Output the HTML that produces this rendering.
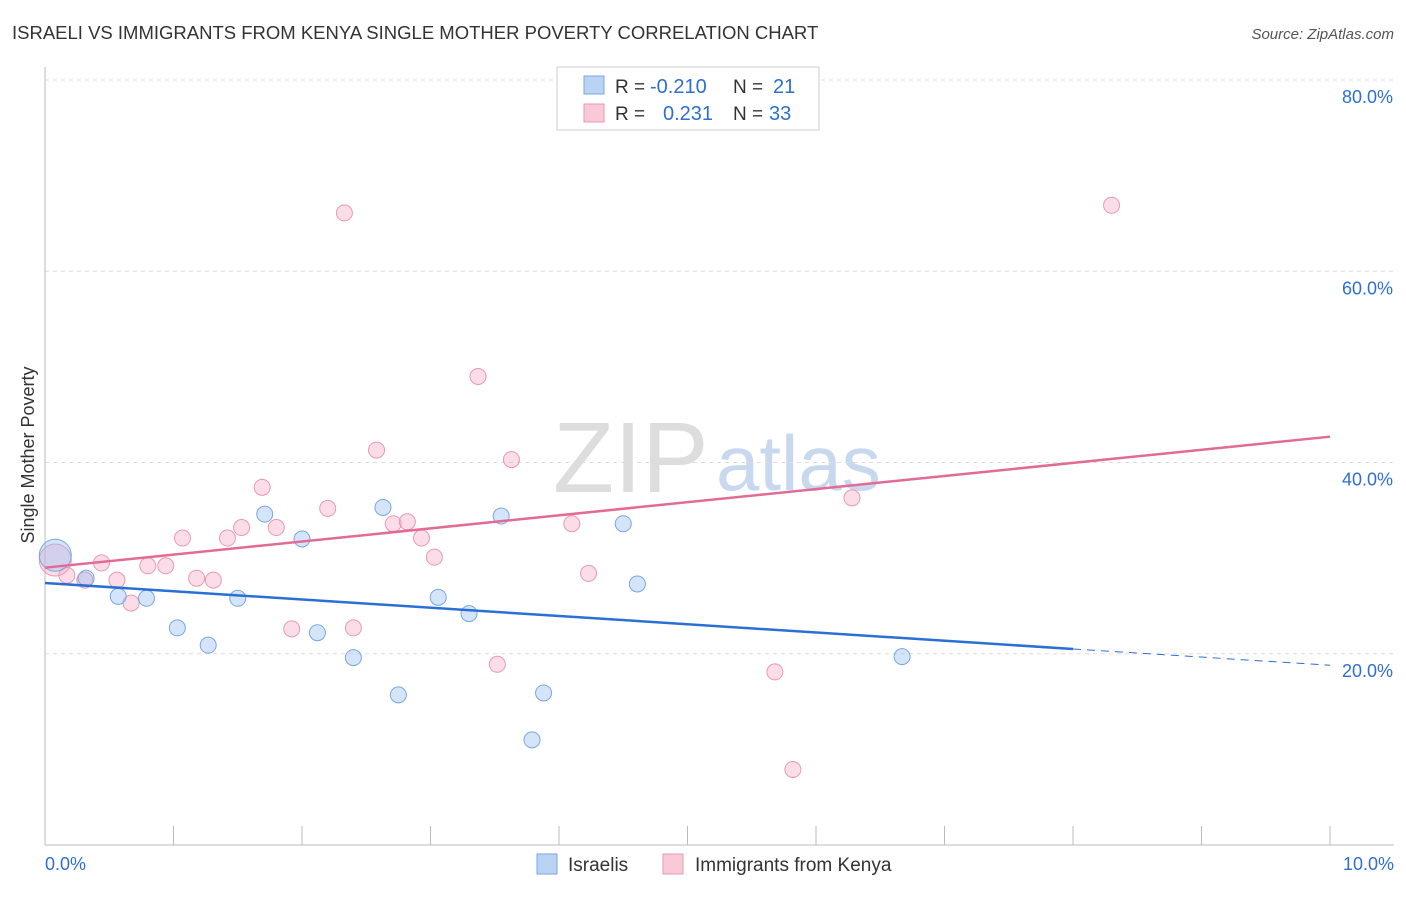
<!DOCTYPE html>
<html><head><meta charset="utf-8"><style>
body{margin:0;background:#fff;font-family:"Liberation Sans",sans-serif;}
svg text{font-family:"Liberation Sans",sans-serif;}
</style></head><body>
<svg id="c" width="1406" height="892" xmlns="http://www.w3.org/2000/svg">
<text x="12" y="39" font-size="18.5" fill="#333">ISRAELI VS IMMIGRANTS FROM KENYA SINGLE MOTHER POVERTY CORRELATION CHART</text>
<text x="1394" y="39" font-size="15" fill="#555" font-style="italic" text-anchor="end">Source: ZipAtlas.com</text>
<text x="553" y="492" font-size="100" fill="#ddd" font-family="Liberation Serif">ZIP</text>
<text x="716" y="490" font-size="78" fill="#c8d8ee">atlas</text>
<text x="34" y="455" font-size="18" fill="#333" transform="rotate(-90 34 455)" text-anchor="middle">Single Mother Poverty</text>
<g id="grid"></g><g id="marks"></g>
<g>
<rect x="557" y="67" width="262" height="63" fill="#fff" stroke="#ccc"/>
<rect x="584" y="76" width="20" height="18" fill="#b9d3f3" stroke="#7aa7e0"/>
<rect x="584" y="104" width="20" height="18" fill="#f9c9d7" stroke="#ea98b3"/>
<text x="615" y="93" font-size="19" fill="#333">R =</text>
<text x="650" y="93" font-size="20" fill="#2f6fd1">-0.210</text>
<text x="733" y="93" font-size="19" fill="#333">N =</text>
<text x="773" y="93" font-size="20" fill="#2f6fd1">21</text>
<text x="615" y="120" font-size="19" fill="#333">R =</text>
<text x="663" y="120" font-size="20" fill="#2f6fd1">0.231</text>
<text x="733" y="120" font-size="19" fill="#333">N =</text>
<text x="769" y="120" font-size="20" fill="#2f6fd1">33</text>
</g>
<g>
<rect x="537" y="854" width="20" height="20" fill="#b9d3f3" stroke="#7aa7e0"/>
<text x="568" y="871" font-size="19" fill="#333">Israelis</text>
<rect x="663" y="854" width="20" height="20" fill="#f9c9d7" stroke="#ea98b3"/>
<text x="695" y="871" font-size="19" fill="#333">Immigrants from Kenya</text>
</g>
</svg>
<script>
const yTicks=[20,40,60,80];
const xTickLabels=["0.0%","10.0%"];
const blueX=[0.08,0.32,0.57,0.79,1.03,1.27,1.50,1.71,2.00,2.12,2.40,2.63,2.75,3.06,3.30,3.55,3.79,3.88,4.50,4.61,6.67];
const blueY=[30.3,27.9,26.0,25.8,22.7,20.9,25.8,34.6,32.0,22.2,19.6,35.3,15.7,25.9,24.2,34.4,11.0,15.9,33.6,27.3,19.7];
const pinkX=[0.08,0.17,0.31,0.44,0.56,0.67,0.80,0.94,1.07,1.18,1.31,1.42,1.53,1.69,1.80,1.92,2.20,2.33,2.40,2.58,2.71,2.82,2.93,3.03,3.37,3.52,3.63,4.10,4.23,5.68,5.82,6.28,8.30];
const pinkY=[29.8,28.2,27.7,29.5,27.7,25.3,29.2,29.2,32.1,27.9,27.7,32.1,33.2,37.4,33.2,22.6,35.2,66.1,22.7,41.3,33.6,33.8,32.1,30.1,49.0,18.9,40.3,33.6,28.4,18.1,7.9,36.3,66.9];
const blueTrend=[27.4,20.5,18.8]; // at x=0, 8.0, 10
const pinkTrend=[29.0,42.7]; // at x=0,10
const X=v=>45+v*128.5, Y=v=>845-v*9.5625;
const NS="http://www.w3.org/2000/svg";
function mk(t,a,p){const e=document.createElementNS(NS,t);for(const k in a)e.setAttribute(k,a[k]);p.appendChild(e);return e;}
const g=document.getElementById('grid'),m=document.getElementById('marks');
yTicks.forEach(t=>{const l=mk('line',{x1:45,x2:1394,y1:Y(t),y2:Y(t),stroke:'#ddd','stroke-dasharray':'4,4'},g);


const tx=mk('text',{x:1393,y:Y(t)+23,'font-size':18,fill:'#2f6fd1','text-anchor':'end'},g);tx.textContent=t.toFixed(1)+'%';

});
mk('line',{x1:45,x2:45,y1:67,y2:845,stroke:'#bbb'},g);
mk('line',{x1:45,x2:1394,y1:845,y2:845,stroke:'#bbb'},g);
for(let i=0;i<=10;i++){mk('line',{x1:X(i),x2:X(i),y1:826,y2:845,stroke:'#bbb'},g);}
[[0,'start',45],[10,'end',1394]].forEach((d,i)=>{const tx=mk('text',{x:d[2],y:870,'font-size':18,fill:'#2f6fd1','text-anchor':d[1]},g);tx.textContent=xTickLabels[i];

});
function dot(x,y,big,blue){const c=mk('circle',{cx:X(x),cy:Y(y),r:big?16:8,fill:blue?'rgba(150,190,240,0.4)':'rgba(245,170,195,0.4)',stroke:blue?'#7aa7e0':'#ea98b3','stroke-width':1},m);

}
pinkX.forEach((x,i)=>dot(x,pinkY[i],i==0,false));
blueX.forEach((x,i)=>dot(x,blueY[i],i==0,true));
let l=mk('line',{x1:X(0),y1:Y(blueTrend[0]),x2:X(8),y2:Y(blueTrend[1]),stroke:'#2a6fd6','stroke-width':2.5},m);


l=mk('line',{x1:X(8),y1:Y(blueTrend[1]),x2:X(10),y2:Y(blueTrend[2]),stroke:'#2a6fd6','stroke-width':1,'stroke-dasharray':'8,6'},m);


l=mk('line',{x1:X(0),y1:Y(pinkTrend[0]),x2:X(10),y2:Y(pinkTrend[1]),stroke:'#e26b96','stroke-width':2.5},m);


</script>
</body></html>
